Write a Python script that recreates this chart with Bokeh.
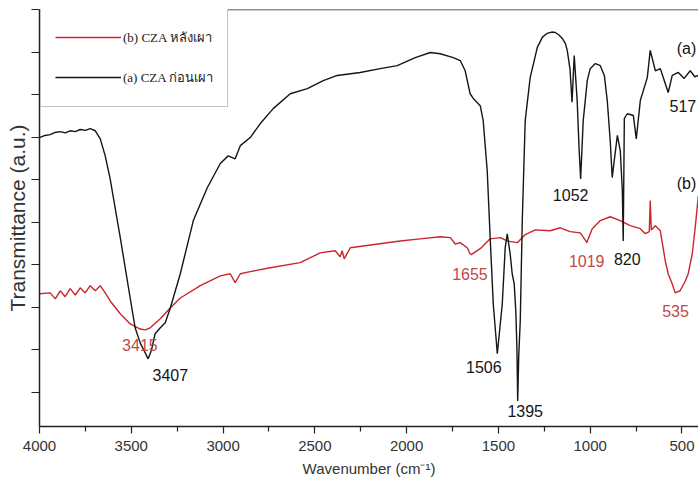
import numpy as np
from bokeh.plotting import figure
from bokeh.models import (Range1d, FixedTicker, Legend, LegendItem, Span,
                          ColumnDataSource, CustomJSTickFormatter)
from bokeh.embed import file_html
from bokeh.resources import INLINE

# ---------------- data ----------------
# (a) CZA before calcination  -- wavenumber (cm-1), transmittance (a.u.)
wn_a = [4000, 3970, 3942, 3915, 3887, 3860, 3833, 3805, 3778, 3750, 3724, 3696,
        3669, 3642, 3615, 3588, 3560, 3533, 3506, 3479, 3451, 3430, 3408, 3391,
        3370, 3342, 3315, 3287, 3233, 3162, 3086, 3015, 2972, 2934, 2906, 2852,
        2797, 2727, 2634, 2541, 2454, 2378, 2253, 2144, 2051, 1953, 1871, 1817,
        1746, 1708, 1681, 1654, 1637, 1599, 1583, 1561, 1545, 1528, 1506, 1479,
        1463, 1452, 1436, 1425, 1414, 1405, 1399, 1395, 1389, 1381, 1370, 1354,
        1327, 1288, 1260, 1234, 1210, 1190, 1170, 1152, 1135, 1125, 1110, 1099,
        1087, 1071, 1060, 1052, 1038, 1016, 1000, 972, 945, 923, 907, 891, 880,
        869, 852, 836, 825, 820, 814, 798, 765, 749, 727, 689, 673, 645, 618,
        602, 575, 553, 520, 488, 455, 430, 411]
val_a = [6.99, 7.04, 7.06, 7.11, 7.13, 7.10, 7.15, 7.13, 7.18, 7.16, 7.20, 7.15,
         6.96, 6.56, 6.02, 5.34, 4.64, 3.93, 3.22, 2.52, 2.16, 1.98, 1.79, 1.98,
         2.38, 2.52, 2.64, 2.99, 3.79, 5.04, 5.81, 6.38, 6.56, 6.49, 6.80, 6.99,
         7.32, 7.67, 8.02, 8.14, 8.33, 8.45, 8.52, 8.61, 8.68, 8.87, 8.99, 8.96,
         8.87, 8.80, 8.56, 8.02, 7.91, 7.74, 7.39, 6.21, 4.64, 3.08, 1.91, 3.08,
         4.40, 4.73, 4.26, 3.79, 3.55, 2.90, 2.00, 0.80, 1.90, 2.68, 5.04, 7.39,
         8.40, 9.11, 9.35, 9.44, 9.47, 9.46, 9.40, 9.32, 9.20, 9.04, 8.60, 7.82,
         8.92, 7.86, 6.68, 6.02, 7.39, 8.33, 8.61, 8.73, 8.68, 8.45, 7.86, 6.92, 6.05,
         6.45, 7.04, 6.68, 5.74, 4.56, 7.44, 7.55, 7.51, 6.96, 7.86, 8.40, 9.04, 8.56, 8.61,
         8.40, 8.05, 8.45, 8.52, 8.38, 8.56, 8.42, 8.45]

# (b) CZA after calcination
wn_b = [4000, 3942, 3914, 3887, 3860, 3833, 3805, 3778, 3751, 3724, 3696, 3669,
        3642, 3615, 3560, 3506, 3451, 3424, 3397, 3342, 3287, 3233, 3124, 3015,
        2961, 2934, 2906, 2852, 2743, 2580, 2471, 2389, 2362, 2351, 2340, 2307,
        2035, 1926, 1817, 1762, 1735, 1708, 1670, 1655, 1648, 1599, 1545, 1490,
        1452, 1397, 1354, 1299, 1218, 1163, 1109, 1054, 1022, 1019, 989, 945, 891,
        836, 782, 727, 700, 678, 673, 667, 645, 618, 591, 575, 553, 537, 510,
        482, 466, 444, 428, 411]
val_b = [3.32, 3.34, 3.20, 3.39, 3.25, 3.44, 3.29, 3.46, 3.34, 3.51, 3.39, 3.51,
         3.34, 3.15, 2.85, 2.61, 2.49, 2.47, 2.52, 2.73, 2.99, 3.22, 3.51, 3.74,
         3.79, 3.58, 3.79, 3.84, 3.93, 4.05, 4.28, 4.33, 4.19, 4.33, 4.14, 4.40,
         4.56, 4.61, 4.66, 4.64, 4.49, 4.52, 4.40, 4.26, 4.24, 4.38, 4.61, 4.64,
         4.56, 4.52, 4.71, 4.82, 4.80, 4.87, 4.78, 4.75, 4.55, 4.52, 4.85, 5.04, 5.13,
         5.04, 4.92, 4.85, 4.73, 4.78, 5.51, 4.82, 4.92, 4.80, 4.09, 3.79, 3.55, 3.34, 3.39,
         3.62, 3.79, 4.26, 4.87, 5.62]

X_TICKS = [4000, 3500, 3000, 2500, 2000, 1500, 1000, 500]
X_MINOR = [3750, 3250, 2750, 2250, 1750, 1250, 750]
Y_TICKS = [1, 2, 3, 4, 5, 6, 7, 8, 9, 10]
X_START, X_END = 4000, 410
Y_BOTTOM, Y_TOP = 0.2, 10

LEGEND_B = "(b) CZA หลังเผา"
LEGEND_A = "(a) CZA ก่อนเผา"
X_TITLE = "Wavenumber (cm⁻¹)"
Y_TITLE = "Transmittance (a.u.)"

# peak annotations: (text, series, anchor wavenumber)
peak_labels = [("3407", "a", 3407), ("3415", "b", 3415), ("1506", "a", 1506),
               ("1395", "a", 1395), ("1052", "a", 1052), ("820", "a", 820),
               ("517", "a", 517), ("1655", "b", 1655), ("1019", "b", 1019),
               ("535", "b", 535), ("(a)", "a", 470), ("(b)", "b", 470)]
# screen offsets (px) of each label from its anchor
label_offsets = {"3407": (22, 16.5), "3415": (-7, 15.5), "1506": (-13.5, 13),
                 "1395": (7.5, 10.5), "1052": (-10, 16.5), "820": (4, 18.5),
                 "517": (4, 33), "1655": (0, 20), "1019": (0, 18),
                 "535": (0, 18.5), "(a)": (-1, -26), "(b)": (-1, -92.5)}

BLACK = "#151515"
RED = "#c9262c"
RED_TEXT = "#c0494b"

# ---------------- figure ----------------
p = figure(width=698, height=481, output_backend="svg", toolbar_location=None,
           x_range=Range1d(X_START, X_END), y_range=Range1d(Y_BOTTOM, Y_TOP),
           min_border_left=39, min_border_right=0, min_border_top=9,
           min_border_bottom=55)
p.grid.visible = False
p.outline_line_color = None
p.background_fill_color = "white"
p.border_fill_color = "white"

rb = p.line(wn_b, val_b, line_color=RED, line_width=1.4)
ra = p.line(wn_a, val_a, line_color=BLACK, line_width=1.4)

# labels anchored to the curves
series = {"a": (np.array(wn_a[::-1], float), np.array(val_a[::-1], float)),
          "b": (np.array(wn_b[::-1], float), np.array(val_b[::-1], float))}
lx, ly, lt, dx, dy, lc = [], [], [], [], [], []
for text, s, w in peak_labels:
    xs, ys = series[s]
    lx.append(w)
    ly.append(float(np.interp(w, xs, ys)))
    lt.append(text)
    ox, oy = label_offsets[text]
    dx.append(ox)
    dy.append(oy)
    lc.append(BLACK if (s == "a" or text == "(b)") else RED_TEXT)
src = ColumnDataSource(dict(x=lx, y=ly, text=lt, dx=dx, dy=dy, c=lc))
p.text(x="x", y="y", text="text", x_offset="dx", y_offset="dy",
       text_color="c", source=src, text_align="center",
       text_baseline="middle", text_font_size="16px",
       text_font={"value": "Liberation Sans"})

# top frame line
p.add_layout(Span(location=Y_TOP, dimension="width", line_color="#222",
                  line_width=1.5))

# x axis
xa = p.xaxis[0]
xa.ticker = FixedTicker(ticks=X_TICKS, minor_ticks=X_MINOR)
xa.axis_line_width = 1.5
xa.axis_line_color = "#222"
xa.major_tick_line_color = "#222"
xa.minor_tick_line_color = "#222"
xa.major_tick_line_width = 1.2
xa.minor_tick_line_width = 1.2
xa.major_tick_in = 0
xa.major_tick_out = 7
xa.minor_tick_in = 0
xa.minor_tick_out = 5
xa.major_label_text_font = "Liberation Sans"
xa.major_label_text_font_size = "15px"
xa.major_label_text_color = "#333"
xa.major_label_standoff = 7
xa.axis_label = X_TITLE
xa.axis_label_text_font = "Liberation Sans"
xa.axis_label_text_font_size = "15px"
xa.axis_label_text_font_style = "normal"
xa.axis_label_text_color = "#333"
xa.axis_label_standoff = 6

# y axis
ya = p.yaxis[0]
ya.ticker = FixedTicker(ticks=Y_TICKS)
ya.formatter = CustomJSTickFormatter(code="return ''")
ya.axis_line_width = 1.5
ya.axis_line_color = "#222"
ya.major_tick_line_color = "#222"
ya.major_tick_line_width = 1.2
ya.major_tick_in = 0
ya.major_tick_out = 8
ya.minor_tick_out = 0
ya.minor_tick_in = 0
ya.major_label_standoff = 0
ya.axis_label = Y_TITLE
ya.axis_label_text_font = "Liberation Sans"
ya.axis_label_text_font_size = "21px"
ya.axis_label_text_font_style = "normal"
ya.axis_label_text_color = "#333"
ya.axis_label_standoff = 3

# legend
legend = Legend(items=[LegendItem(label=LEGEND_B, renderers=[rb]),
                       LegendItem(label=LEGEND_A, renderers=[ra])],
                location=(1, 319), glyph_width=66, glyph_height=30,
                label_height=30, label_standoff=2, spacing=10, padding=14,
                margin=0, border_line_color="#888", border_line_width=1,
                label_text_font="Liberation Serif", label_text_font_size="13px",
                label_text_color="#222", background_fill_alpha=1.0)
p.add_layout(legend)

open("out.html", "w").write(file_html(p, INLINE))
